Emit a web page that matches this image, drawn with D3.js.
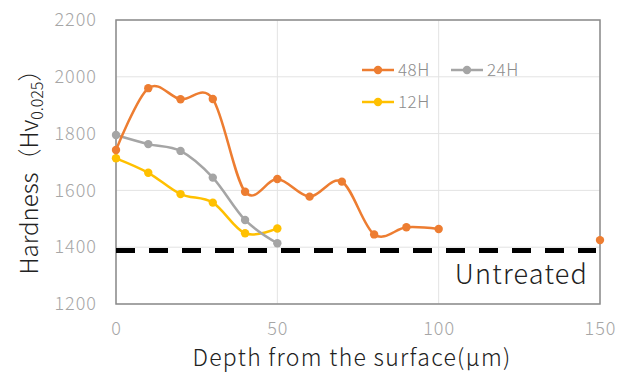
<!DOCTYPE html>
<html>
<head>
<meta charset="utf-8">
<script src="https://cdn.jsdelivr.net/npm/d3@7"></script>
<style>
	body { margin: 0; background: #fff; }
	svg { display: block; font-family: "Noto Sans CJK JP", "Noto Sans", sans-serif; }
</style>
</head>
<body>
<svg id="chart" width="630" height="376"></svg>
<script>
// values
const depths = [0, 10, 20, 30, 40, 50, 60, 70, 80, 90, 100, 150];
const hardness48 = [1742, 1960, 1921, 1922, 1595, 1640, 1578, 1631, 1445, 1470, 1464, 1425];
const depthsShort = [0, 10, 20, 30, 40, 50];
const hardness24 = [1795, 1763, 1739, 1645, 1496, 1414];
const hardness12 = [1713, 1662, 1587, 1557, 1449, 1466];
const untreated = 1388;
const xTicks = [0, 50, 100, 150];
const yTicks = [1200, 1400, 1600, 1800, 2000, 2200];

const series = [
	{ name: '48H', color: '#ED7D31', xs: depths, ys: hardness48 },
	{ name: '24H', color: '#A5A5A5', xs: depthsShort, ys: hardness24 },
	{ name: '12H', color: '#FFC000', xs: depthsShort, ys: hardness12 },
];

const margin = { left: 116, right: 30, top: 20, bottom: 72 };
const svg = d3.select('#chart');
const W = +svg.attr('width'), H = +svg.attr('height');

const x = d3.scaleLinear().domain([0, 150]).range([margin.left, W - margin.right]);
const y = d3.scaleLinear().domain([1200, 2200]).range([H - margin.bottom, margin.top]);

// gridlines
svg.append('g')
	.selectAll('line.h')
	.data(yTicks)
	.join('line')
	.attr('x1', x(0)).attr('x2', x(150))
	.attr('y1', d => y(d)).attr('y2', d => y(d))
	.attr('stroke', '#e3e3e3').attr('stroke-width', 1);
svg.append('g')
	.selectAll('line.v')
	.data(xTicks)
	.join('line')
	.attr('x1', d => x(d)).attr('x2', d => x(d))
	.attr('y1', y(1200)).attr('y2', y(2200))
	.attr('stroke', '#e3e3e3').attr('stroke-width', 1);

// plot border
svg.append('rect')
	.attr('x', x(0)).attr('y', y(2200))
	.attr('width', x(150) - x(0)).attr('height', y(1200) - y(2200))
	.attr('fill', 'none').attr('stroke', '#8a8a8a').attr('stroke-width', 1.5);

// axes (labels only)
const xAxis = svg.append('g')
	.attr('transform', `translate(0,${y(1200)})`)
	.call(d3.axisBottom(x).tickValues(xTicks).tickSize(0).tickPadding(18));
const yAxis = svg.append('g')
	.attr('transform', `translate(${x(0)},0)`)
	.call(d3.axisLeft(y).tickValues(yTicks).tickSize(0).tickPadding(19).tickFormat(d3.format('d')));
[xAxis, yAxis].forEach(a => {
	a.select('.domain').remove();
	a.selectAll('text')
		.attr('fill', '#a6a6a6')
		.style('font-size', '18px')
		.style('letter-spacing', '1px')
		.style('font-family', '"Noto Sans CJK JP", "Noto Sans", sans-serif')
		.style('font-weight', 300);
});

// untreated dashed line
svg.append('line')
	.attr('x1', x(0)).attr('x2', x(150) - 4)
	.attr('y1', y(untreated)).attr('y2', y(untreated))
	.attr('stroke', '#000').attr('stroke-width', 5)
	.attr('stroke-dasharray', '19,14');
svg.append('text')
	.attr('x', x(150) - 12).attr('y', y(untreated) + 33)
	.attr('text-anchor', 'end')
	.attr('fill', '#222')
	.style('font-size', '27px')
	.style('letter-spacing', '1.2px')
	.style('font-weight', 300)
	.text('Untreated');

// series
const line = d3.line()
	.defined(d => d.x <= 100)
	.x(d => x(d.x)).y(d => y(d.y))
	.curve(d3.curveCatmullRom.alpha(0));

const drawOrder = [series[2], series[1], series[0]];
drawOrder.forEach(s => {
	const pts = s.xs.map((v, i) => ({ x: v, y: s.ys[i] }));
	const g = svg.append('g');
	g.append('path')
		.datum(pts)
		.attr('d', line)
		.attr('fill', 'none')
		.attr('stroke', s.color)
		.attr('stroke-width', 2.5);
	g.selectAll('circle')
		.data(pts)
		.join('circle')
		.attr('cx', d => x(d.x)).attr('cy', d => y(d.y))
		.attr('r', 4.2)
		.attr('fill', s.color);
});

// legend
const legendPos = [
	{ lx: 362, ly: 70 },
	{ lx: 451, ly: 70 },
	{ lx: 362, ly: 102 },
];
series.forEach((s, i) => {
	const p = legendPos[i];
	const g = svg.append('g').attr('transform', `translate(${p.lx},${p.ly})`);
	g.append('line').attr('x1', 0).attr('x2', 32).attr('stroke', s.color).attr('stroke-width', 2.5);
	g.append('circle').attr('cx', 16).attr('r', 4.2).attr('fill', s.color);
	g.append('text')
		.attr('x', 36).attr('y', 6)
		.attr('fill', '#8c8c8c')
		.style('font-size', '17px')
		.style('letter-spacing', '0.5px')
		.style('font-weight', 300)
		.text(s.name);
});

// axis titles
svg.append('text')
	.attr('x', 352).attr('y', 366)
	.attr('text-anchor', 'middle')
	.attr('fill', '#222')
	.style('font-size', '23px')
	.style('letter-spacing', '1.3px')
	.style('font-weight', 300)
	.text('Depth from the surface(μm)');

const yt = svg.append('text')
	.attr('transform', 'translate(38,166) rotate(-90)')
	.attr('text-anchor', 'middle')
	.attr('fill', '#222')
	.style('font-size', '24px')
	.style('font-weight', 300);
yt.append('tspan').text('Hardness（Hv');
yt.append('tspan').attr('dy', 5).style('font-size', '16px').text('0.025');
yt.append('tspan').attr('dy', -5).text('）');
</script>
</body>
</html>
